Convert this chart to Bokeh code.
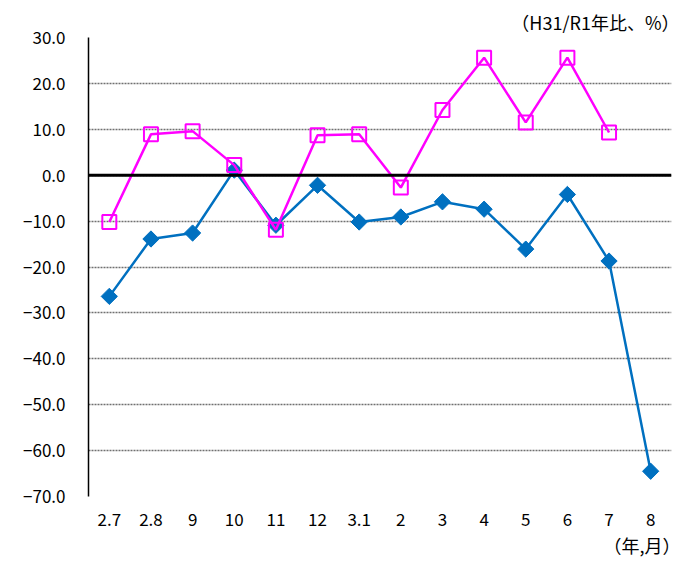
import math
from bokeh.plotting import figure
from bokeh.models import ColumnDataSource, Range1d, FixedTicker, Span, Title
from bokeh.embed import file_html
from bokeh.resources import INLINE

months = ["2.7", "2.8", "9", "10", "11", "12", "3.1", "2", "3", "4", "5", "6", "7", "8"]
blue_vals = [-26.4, -13.9, -12.6, 1.1, -10.9, -2.2, -10.2, -9.1, -5.8, -7.4, -16.1, -4.2, -18.7, -64.5]
pink_vals = [-10.2, 8.9, 9.6, 2.2, -11.9, 8.7, 8.9, -2.7, 14.2, 25.6, 11.5, 25.6, 9.3]
y_ticks = [30, 20, 10, 0, -10, -20, -30, -40, -50, -60, -70]
y_tick_labels = ["30.0", "20.0", "10.0", "0.0", "\u221210.0", "\u221220.0", "\u221230.0",
                 "\u221240.0", "\u221250.0", "\u221260.0", "\u221270.0"]
unit_label = "（H31/R1年比、%）"
x_unit_label = "（年,月）"

FONT = "Noto Sans CJK JP"

idx = list(range(len(months)))
blue_src = ColumnDataSource(dict(x=idx, y=blue_vals))
pink_src = ColumnDataSource(dict(x=idx[:len(pink_vals)], y=pink_vals))

p = figure(width=681, height=559, output_backend="svg", toolbar_location=None,
           x_range=Range1d(-0.5, len(months) - 0.5), y_range=Range1d(-70, 30),
           min_border_left=88, min_border_right=10, min_border_top=37, min_border_bottom=57)
p.outline_line_color = None
p.background_fill_color = "white"

top_title = Title(text=unit_label, align="right", text_font=FONT, text_font_size="18px",
                  text_font_style="normal", text_color="black", standoff=6, offset=-8)
p.add_layout(top_title, "above")
bottom_title = Title(text=x_unit_label, align="right", text_font=FONT, text_font_size="18px",
                     text_font_style="normal", text_color="black", standoff=3, offset=-9)

# axes
p.yaxis.ticker = FixedTicker(ticks=y_ticks)
p.yaxis.major_label_overrides = {t: l for t, l in zip(y_ticks, y_tick_labels)}
p.yaxis.major_tick_out = 0
p.yaxis.major_tick_in = 0
p.yaxis.minor_tick_out = 0
p.yaxis.minor_tick_in = 0
p.yaxis.axis_line_color = "black"
p.yaxis.axis_line_width = 1.5
p.yaxis.major_label_standoff = 23
p.yaxis.major_label_text_font = FONT
p.yaxis.major_label_text_font_size = "17px"
p.yaxis.major_label_text_color = "black"

p.xaxis.ticker = FixedTicker(ticks=idx)
p.xaxis.major_label_overrides = {i: m for i, m in zip(idx, months)}
p.xaxis.axis_line_color = None
p.xaxis.major_tick_out = 0
p.xaxis.major_tick_in = 0
p.xaxis.minor_tick_out = 0
p.xaxis.minor_tick_in = 0
p.xaxis.major_label_standoff = 16
p.xaxis.major_label_text_font = FONT
p.xaxis.major_label_text_font_size = "17px"
p.xaxis.major_label_text_color = "black"

p.add_layout(bottom_title, "below")

p.xgrid.grid_line_color = None
p.ygrid.ticker = FixedTicker(ticks=y_ticks)
p.ygrid.grid_line_color = "#707070"
p.ygrid.grid_line_dash = "2 1"
p.ygrid.grid_line_width = 1.5

p.add_layout(Span(location=0, dimension="width", line_color="black", line_width=3))

# series
p.line("x", "y", source=blue_src, line_color="#0070C0", line_width=2.5)
p.scatter("x", "y", source=blue_src, marker="square", size=11.5, angle=math.pi / 4,
          fill_color="#0070C0", line_color="#0070C0")
p.line("x", "y", source=pink_src, line_color="#FF00FF", line_width=2.5)
p.scatter("x", "y", source=pink_src, marker="square", size=14,
          fill_color=None, line_color="#FF00FF", line_width=2)

open("out.html", "w").write(file_html(p, INLINE))
